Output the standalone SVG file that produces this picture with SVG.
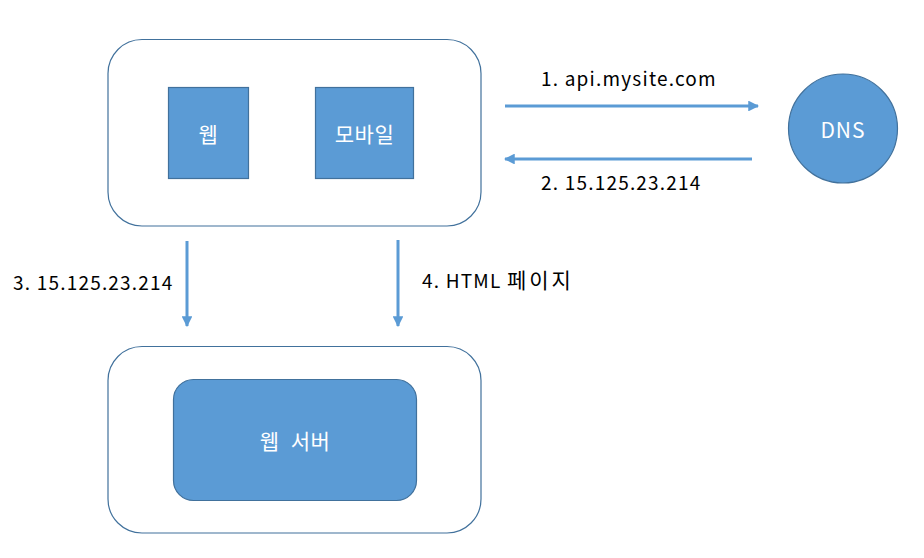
<svg xmlns="http://www.w3.org/2000/svg" width="924" height="558" viewBox="0 0 924 558">
<style>
.container{fill:#fff;stroke:#41719C;stroke-width:1.2}
.box{fill:#5B9BD5;stroke:#41719C;stroke-width:1.2}
.wt{font-family:"Noto Sans CJK KR","Noto Sans",sans-serif;font-size:21px;fill:#fff;text-anchor:middle;dominant-baseline:central;letter-spacing:0.5px}
.lb{font-family:"Noto Sans CJK KR","Noto Sans",sans-serif;font-size:19px;fill:#000;letter-spacing:1.2px}
.conn{stroke:#5B9BD5;stroke-width:3;fill:none;marker-end:url(#ah)}
</style>
<defs>
<marker id="ah" viewBox="0 0 10 10" refX="9" refY="5" markerWidth="3.6" markerHeight="3.6" orient="auto" markerUnits="strokeWidth">
<path d="M0,0 L10,5 L0,10 z" fill="#5B9BD5"/>
</marker>
</defs>
<rect width="924" height="558" fill="#fff"/>
<g id="client">
<rect class="container" x="108" y="39.5" width="373" height="186.5" rx="34"/>
</g>
<g id="web">
<rect class="box" x="168.5" y="87.5" width="80" height="91"/>
<text class="wt" x="208.5" y="133">웹</text>
</g>
<g id="mobile">
<rect class="box" x="315.5" y="87.5" width="98" height="91"/>
<text class="wt" x="364.5" y="133">모바일</text>
</g>
<g id="dns">
<circle class="box" cx="843" cy="128.5" r="54.5"/>
<text class="wt" x="843" y="128.5" style="letter-spacing:1px">DNS</text>
</g>
<g id="server-container">
<rect class="container" x="108" y="346.5" width="373" height="186.5" rx="34"/>
</g>
<g id="webserver">
<rect class="box" x="173.5" y="379.5" width="243" height="121" rx="20"/>
<text class="wt" x="295" y="440" style="word-spacing:6px">웹 서버</text>
</g>
<g id="connectors">
<line class="conn" x1="505" y1="106" x2="758" y2="106"/>
<line class="conn" x1="752" y1="159" x2="505" y2="159"/>
<line class="conn" x1="187" y1="241" x2="187" y2="326"/>
<line class="conn" x1="398" y1="240" x2="398" y2="326"/>
</g>
<g id="labels">
<text class="lb" x="541" y="86">1. api.mysite.com</text>
<text class="lb" x="541" y="190">2. 15.125.23.214</text>
<text class="lb" x="13" y="290">3. 15.125.23.214</text>
<text class="lb" x="422" y="288">4. HTML <tspan style="font-size:21px;letter-spacing:3px">페이지</tspan></text>
</g>
</svg>
